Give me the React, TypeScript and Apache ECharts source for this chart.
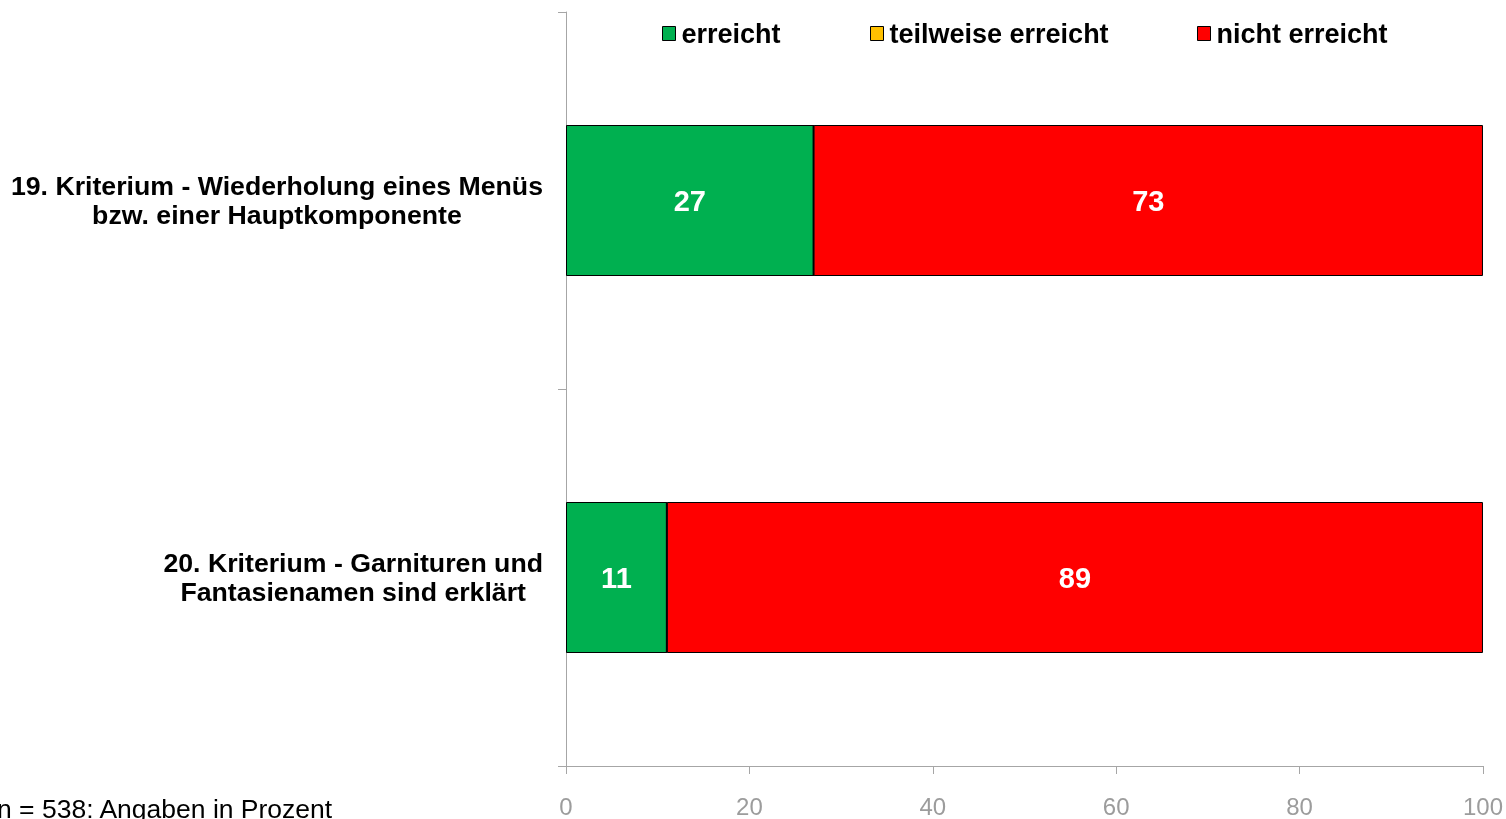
import React, { useEffect, useRef } from "react";
import * as echarts from "echarts";

const categories = [
  "19. Kriterium - Wiederholung eines Menüs\nbzw. einer Hauptkomponente",
  "20. Kriterium - Garnituren und\nFantasienamen sind erklärt",
];
const seriesNames = ["erreicht", "teilweise erreicht", "nicht erreicht"];
const erreicht = [27, 11];
const teilweise = [0, 0];
const nichtErreicht = [73, 89];
const xTicks = [0, 20, 40, 60, 80, 100];
const footnote = "n = 538: Angaben in Prozent";

const FONT = "'Liberation Sans', Arial, sans-serif";
const colors = ["#00B050", "#FFC000", "#FF0000"];

export default function App() {
  const ref = useRef<HTMLDivElement>(null);
  useEffect(() => {
    if (!ref.current) return;
    const chart = echarts.init(ref.current, undefined, { renderer: "svg" });
    const values = [erreicht, teilweise, nichtErreicht];
    const legendLefts = [662, 870, 1197];
    chart.setOption({
      animation: false,
      textStyle: { fontFamily: FONT },
      legend: seriesNames.map((n, i) => ({
        data: [n],
        left: legendLefts[i],
        top: 20,
        padding: 0,
        icon: "rect",
        itemWidth: 13,
        itemHeight: 14,
        itemGap: 6,
        selectedMode: false,
        itemStyle: { borderColor: "#000", borderWidth: 1 },
        textStyle: {
          fontFamily: FONT,
          fontSize: 27,
          fontWeight: "bold",
          color: "#000",
          padding: [0, 0, 0, 1],
        },
      })),
      grid: { left: 566, right: 20, top: 12, bottom: 53, containLabel: false },
      xAxis: {
        type: "value",
        min: 0,
        max: 100,
        interval: 20,
        splitLine: { show: false },
        axisLine: { show: true, lineStyle: { color: "#A6A6A6", width: 1 } },
        axisTick: { show: true, length: 8, lineStyle: { color: "#A6A6A6" } },
        axisLabel: {
          margin: 28,
          fontSize: 24,
          color: "#9C9C9C",
          fontFamily: FONT,
          formatter: (v: number) => (xTicks.includes(v) ? String(v) : ""),
        },
      },
      yAxis: {
        type: "category",
        inverse: true,
        data: categories,
        axisLine: { show: true, lineStyle: { color: "#A6A6A6", width: 1 } },
        axisTick: { show: true, length: 8, lineStyle: { color: "#A6A6A6" } },
        axisLabel: {
          margin: 23,
          align: "right",
          formatter: (v: string) =>
            v
              .split("\n")
              .map((l) => "{c|" + l + "}")
              .join("\n"),
          rich: {
            c: {
              align: "center",
              fontFamily: FONT,
              fontSize: 26.7,
              fontWeight: "bold",
              color: "#000",
              lineHeight: 29,
            },
          },
        },
      },
      series: seriesNames.map((n, i) => ({
        name: n,
        type: "bar",
        stack: "total",
        barWidth: 151,
        data: values[i],
        itemStyle: { color: colors[i], borderColor: "#000", borderWidth: 1 },
        label: {
          show: i !== 1,
          position: "inside",
          color: "#fff",
          fontFamily: FONT,
          fontWeight: "bold",
          fontSize: 29,
        },
      })),
      graphic: [
        {
          type: "text",
          left: -3,
          top: 795,
          style: {
            text: footnote,
            fontFamily: FONT,
            fontSize: 26.5,
            fill: "#000",
          },
        },
      ],
    });
    return () => chart.dispose();
  }, []);
  return (
    <div
      ref={ref}
      style={{ position: "fixed", left: 0, top: 0, width: 1506, height: 819 }}
    />
  );
}
